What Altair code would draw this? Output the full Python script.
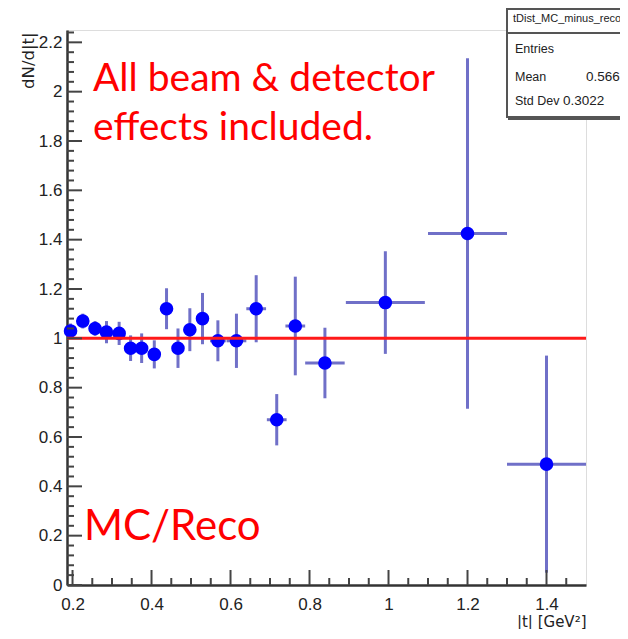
import altair as alt
import pandas as pd

# ---- data ----
t_center = [0.195, 0.226, 0.257, 0.286, 0.318, 0.347, 0.375, 0.407, 0.438, 0.467, 0.497,
            0.529, 0.568, 0.615, 0.665, 0.717, 0.764, 0.839, 0.992, 1.2, 1.4]
ratio = [1.03, 1.07, 1.04, 1.025, 1.02, 0.96, 0.96, 0.935, 1.12, 0.96, 1.035,
         1.08, 0.99, 0.99, 1.12, 0.67, 1.05, 0.90, 1.145, 1.425, 0.49]
t_halfwidth = [0.015, 0.015, 0.015, 0.015, 0.015, 0.015, 0.015, 0.015, 0.015, 0.015, 0.015,
               0.015, 0.02, 0.025, 0.025, 0.025, 0.025, 0.05, 0.1, 0.1, 0.1]
ratio_err = [0.03, 0.03, 0.03, 0.045, 0.047, 0.052, 0.06, 0.057, 0.083, 0.08, 0.087,
             0.104, 0.083, 0.11, 0.136, 0.104, 0.2, 0.143, 0.208, 0.71, 0.44]

x_major = [0.2, 0.4, 0.6, 0.8, 1.0, 1.2, 1.4]
x_minor = [0.25, 0.3, 0.35, 0.45, 0.5, 0.55, 0.65, 0.7, 0.75, 0.85, 0.9, 0.95,
           1.05, 1.1, 1.15, 1.25, 1.3, 1.35, 1.45]
y_major = [0, 0.2, 0.4, 0.6, 0.8, 1.0, 1.2, 1.4, 1.6, 1.8, 2.0, 2.2]
y_minor = [0.04, 0.08, 0.12, 0.16, 0.24, 0.28, 0.32, 0.36, 0.44, 0.48, 0.52, 0.56,
           0.64, 0.68, 0.72, 0.76, 0.84, 0.88, 0.92, 0.96, 1.04, 1.08, 1.12, 1.16,
           1.24, 1.28, 1.32, 1.36, 1.44, 1.48, 1.52, 1.56, 1.64, 1.68, 1.72, 1.76,
           1.84, 1.88, 1.92, 1.96, 2.04, 2.08, 2.12, 2.16, 2.24]

ref_level = [1.0]
note_lines = ["All beam & detector", "effects included."]
corner_label = "MC/Reco"
stats_title = "tDist_MC_minus_reco"
stats_names = ["Entries", "Mean", "Std Dev"]
stats_values = ["9", "0.566", "0.3022"]

X_DOMAIN = [0.186, 1.5]
Y_DOMAIN = [0, 2.25]
W, H = 519, 555
FONT = "Liberation Sans"
TFONT = "DejaVu Sans"

df = pd.DataFrame({
    "t": t_center, "r": ratio,
    "tlo": [a - b for a, b in zip(t_center, t_halfwidth)],
    "thi": [a + b for a, b in zip(t_center, t_halfwidth)],
    "rlo": [a - b for a, b in zip(ratio, ratio_err)],
    "rhi": [a + b for a, b in zip(ratio, ratio_err)],
})

xs = alt.Scale(domain=X_DOMAIN, nice=False, zero=False)
ys = alt.Scale(domain=Y_DOMAIN, nice=False, zero=False)

x_axis = alt.Axis(values=x_major, ticks=False, grid=False, labelFontSize=17, labelFont=FONT,
                  labelColor="#222", labelPadding=11, labelFlush=False, domainColor="#333",
                  domainWidth=2.5, title="|t| [GeV²]", titleFont=TFONT, titleFontSize=15,
                  titleFontWeight="normal", titleColor="#222", titleAlign="right",
                  titleX=W, titleY=41, titleBaseline="alphabetic", format="~g")
y_axis = alt.Axis(values=y_major, ticks=False, grid=False, labelFontSize=17, labelFont=FONT,
                  labelColor="#222", labelPadding=5, labelFlush=False, domainColor="#333",
                  domainWidth=2.5, title="dN/d|t|", titleFont=TFONT, titleFontSize=16.5,
                  titleFontWeight="normal", titleColor="#222", titleAlign="right",
                  titleAngle=270, titleX=-39, titleY=2, titleBaseline="middle", format="~g")

base = alt.Chart(df)

vbars = base.mark_rule(color="#7070c8", strokeWidth=3).encode(
    x=alt.X("t:Q", scale=xs, axis=x_axis),
    y=alt.Y("rlo:Q", scale=ys, axis=y_axis),
    y2="rhi:Q",
)
hbars = base.mark_rule(color="#7070c8", strokeWidth=3).encode(
    x=alt.X("tlo:Q", scale=xs), x2="thi:Q", y=alt.Y("r:Q", scale=ys)
)
points = base.mark_circle(size=185, color="#0000ff", opacity=1).encode(
    x=alt.X("t:Q", scale=xs), y=alt.Y("r:Q", scale=ys)
)
line = alt.Chart(pd.DataFrame({"v": ref_level})).mark_rule(color="#ff1a1a", strokeWidth=3).encode(
    y=alt.Y("v:Q", scale=ys)
)

tick_color = "#444"
ymaj = alt.Chart(pd.DataFrame({"v": y_major})).mark_rule(color=tick_color, strokeWidth=2).encode(
    y=alt.Y("v:Q", scale=ys), x=alt.value(0), x2=alt.value(15))
ymin = alt.Chart(pd.DataFrame({"v": y_minor})).mark_rule(color=tick_color, strokeWidth=2).encode(
    y=alt.Y("v:Q", scale=ys), x=alt.value(0), x2=alt.value(7))
xmaj = alt.Chart(pd.DataFrame({"v": x_major})).mark_rule(color=tick_color, strokeWidth=2).encode(
    x=alt.X("v:Q", scale=xs), y=alt.value(H), y2=alt.value(H - 15))
xmin = alt.Chart(pd.DataFrame({"v": x_minor})).mark_rule(color=tick_color, strokeWidth=2).encode(
    x=alt.X("v:Q", scale=xs), y=alt.value(H), y2=alt.value(H - 7))


def text_layer(txt, px, py, size, color="#222", font=FONT):
    return alt.Chart(pd.DataFrame({"txt": [txt]})).mark_text(
        align="left", baseline="alphabetic", font=font, fontSize=size, color=color
    ).encode(text="txt:N", x=alt.value(px), y=alt.value(py))


notes = [text_layer(note_lines[0], 26, 61, 39, "#ff0000", "Lato"),
         text_layer(note_lines[1], 26, 110, 39, "#ff0000", "Lato")]
corner = text_layer(corner_label, 17, 510, 42, "#ff0000", "Lato")

# stats box
one = pd.DataFrame({"k": [0]})
box = alt.Chart(one).mark_rect(fill="white", stroke="#555", strokeWidth=2).encode(
    x=alt.value(440), x2=alt.value(620), y=alt.value(-21), y2=alt.value(87))
box_shadow = alt.Chart(one).mark_rule(color="#555", strokeWidth=2).encode(
    x=alt.value(441), x2=alt.value(620), y=alt.value(89))
box_sep = alt.Chart(one).mark_rule(color="#555", strokeWidth=2).encode(
    x=alt.value(440), x2=alt.value(620), y=alt.value(3))
box_title = text_layer(stats_title, 446, -8, 11)

name_x = 448
val_x = [556, 519, 496]
row_y = [23, 51, 75]
stat_layers = []
for i in range(3):
    stat_layers.append(text_layer(stats_names[i], name_x, row_y[i], 12.5))
    stat_layers.append(text_layer(stats_values[i], val_x[i], row_y[i], 13.5))

chart = alt.layer(
    vbars, hbars, points, line, ymaj, ymin, xmaj, xmin, *notes, corner,
    box, box_sep, box_shadow, box_title, *stat_layers
).properties(
    width=W, height=H,
    autosize=alt.AutoSizeParams(type="none"),
    padding={"left": 59, "top": 22, "right": 34, "bottom": 44},
).configure_view(stroke="#555", strokeWidth=2).configure(background="white")

chart.save("out.html", embed_options={"renderer": "svg", "actions": False})
